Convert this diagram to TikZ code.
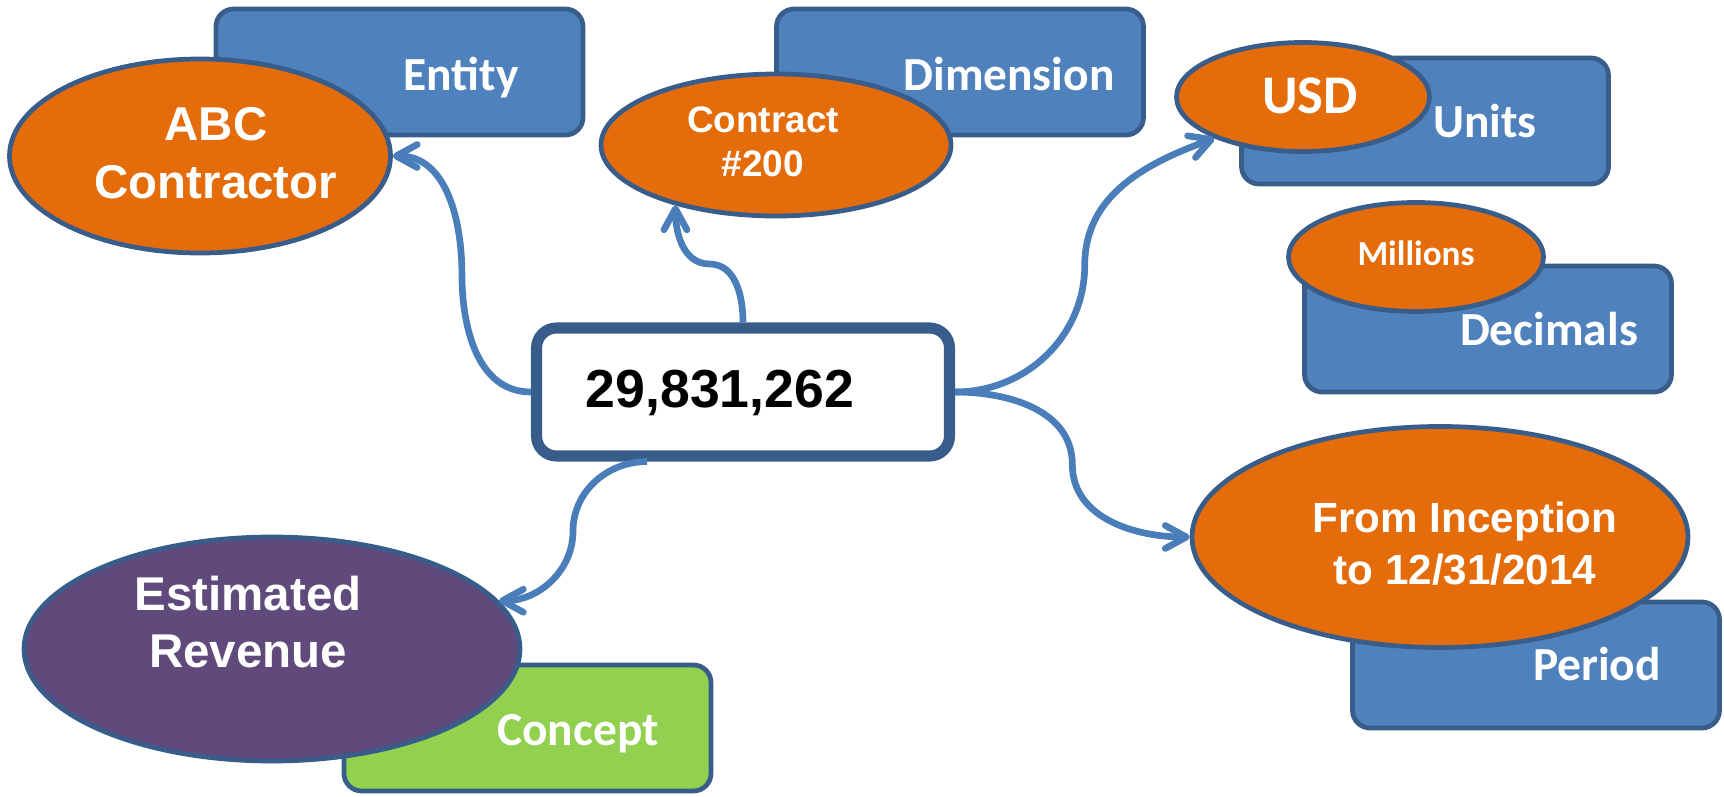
\documentclass[tikz,border=0pt]{standalone}
\usepackage{fontspec}
\setmainfont{Liberation Sans}
\newfontfamily\calibfont{Carlito}
\usetikzlibrary{shapes.geometric,arrows.meta,calc}
\definecolor{boxblue}{HTML}{4F81BD}
\definecolor{edgeblue}{HTML}{385D8A}
\definecolor{ovalorange}{HTML}{E46C0A}
\definecolor{ovalpurple}{HTML}{604A7B}
\definecolor{conceptgreen}{HTML}{92D050}
\definecolor{linkblue}{HTML}{4A7EBB}
\begin{document}
\begin{tikzpicture}[x=0.2mm,y=0.2mm,
	tag/.style={draw=edgeblue,line width=2.7pt,rounded corners=10pt,fill=boxblue,minimum width=7.34cm,minimum height=2.52cm,inner sep=0pt},
	tagtext/.style={anchor=base,text=white,font=\calibfont\bfseries\fontsize{27}{32}\selectfont},
	oval/.style={ellipse,draw=edgeblue,line width=2.7pt,fill=ovalorange,inner sep=0pt},
	ovaltext/.style={text=white,align=center,inner sep=0pt},
	link/.style={draw=linkblue,line width=3.8pt,-{Straight Barb[round,length=0.42cm,width=0.46cm]}}]
	\useasboundingbox(0,0)rectangle(1724,-796);
	\node(entity)at(399.5,-72)[tag]{};
	\node(entitytext)at(461,-90)[tagtext]{Entity};
	\node(abc)at(200,-156)[oval,minimum width=7.62cm,minimum height=3.88cm]{};
	\node(abctext)at(216,-153.5)[ovaltext,font=\bfseries\fontsize{27}{33}\selectfont]{ABC\\Contractor};
	\node(dimension)at(960,-72)[tag]{};
	\node(dimensiontext)at(1009,-90)[tagtext]{Dimension};
	\node(contract)at(776,-145)[oval,minimum width=7cm,minimum height=2.84cm]{};
	\node(contracttext)at(763,-142)[ovaltext,font=\bfseries\fontsize{21}{25}\selectfont]{Contract\\\#200};
	\node(units)at(1425,-121)[tag]{};
	\node(unitstext)at(1485,-137)[tagtext]{Units};
	\node(usd)at(1303,-97)[oval,minimum width=5.06cm,minimum height=2.18cm]{};
	\node(usdtext)at(1310,-113)[tagtext,font=\calibfont\bfseries\fontsize{31}{36}\selectfont]{USD};
	\node(decimals)at(1488,-329)[tag]{};
	\node(decimalstext)at(1549,-345)[tagtext]{Decimals};
	\node(millions)at(1416,-257)[oval,minimum width=5.1cm,minimum height=2.18cm]{};
	\node(millionstext)at(1416,-265)[tagtext,font=\calibfont\bfseries\fontsize{20}{24}\selectfont]{Millions};
	\node(period)at(1536,-665)[tag]{};
	\node(periodtext)at(1597,-680)[tagtext]{Period};
	\node(incept)at(1440,-537)[oval,minimum width=9.92cm,minimum height=4.42cm]{};
	\node(incepttext)at(1465,-543.5)[ovaltext,font=\bfseries\fontsize{24}{30}\selectfont]{From Inception\\to 12/31/2014};
	\node(concept)at(527.5,-728)[tag,fill=conceptgreen]{};
	\node(concepttext)at(578,-745)[tagtext]{Concept};
	\node(revenue)at(272,-649)[oval,fill=ovalpurple,minimum width=9.92cm,minimum height=4.48cm]{};
	\node(revenuetext)at(248,-622)[ovaltext,font=\bfseries\fontsize{27}{32}\selectfont]{Estimated\\Revenue};
	\node(amount)at(743,-392)[draw=edgeblue,line width=6.3pt,rounded corners=0.4cm,fill=white,minimum width=8.26cm,minimum height=2.56cm]{};
	\node(amounttext)at(720,-407)[anchor=base,font=\bfseries\fontsize{30.5}{36}\selectfont]{29,831,262};
	\coordinate(revstart)at([xshift=-1.92cm]amount.south);
	\draw[link](amount.west)to[out=180,in=-90]($(amount.west)!.5!(abc.east)$)to[out=90,in=0](abc.east);
	\draw[link](amount.north)to[out=90,in=0]($(amount.north)!.5!(contract.211)$)to[out=180,in=-90](contract.211);
	\draw[link](amount.east)to[out=0,in=-90]($(amount.east)!.5!(usd.205)$)to[out=90,in=200](usd.205);
	\draw[link](amount.east)to[out=0,in=90]($(amount.east)!.5!(incept.west)$)to[out=-90,in=180](incept.west);
	\draw[link](revstart)to[out=180,in=90]($(revstart)!.5!(revenue.12)$)to[out=-90,in=0](revenue.12);
\end{tikzpicture}
\end{document}
